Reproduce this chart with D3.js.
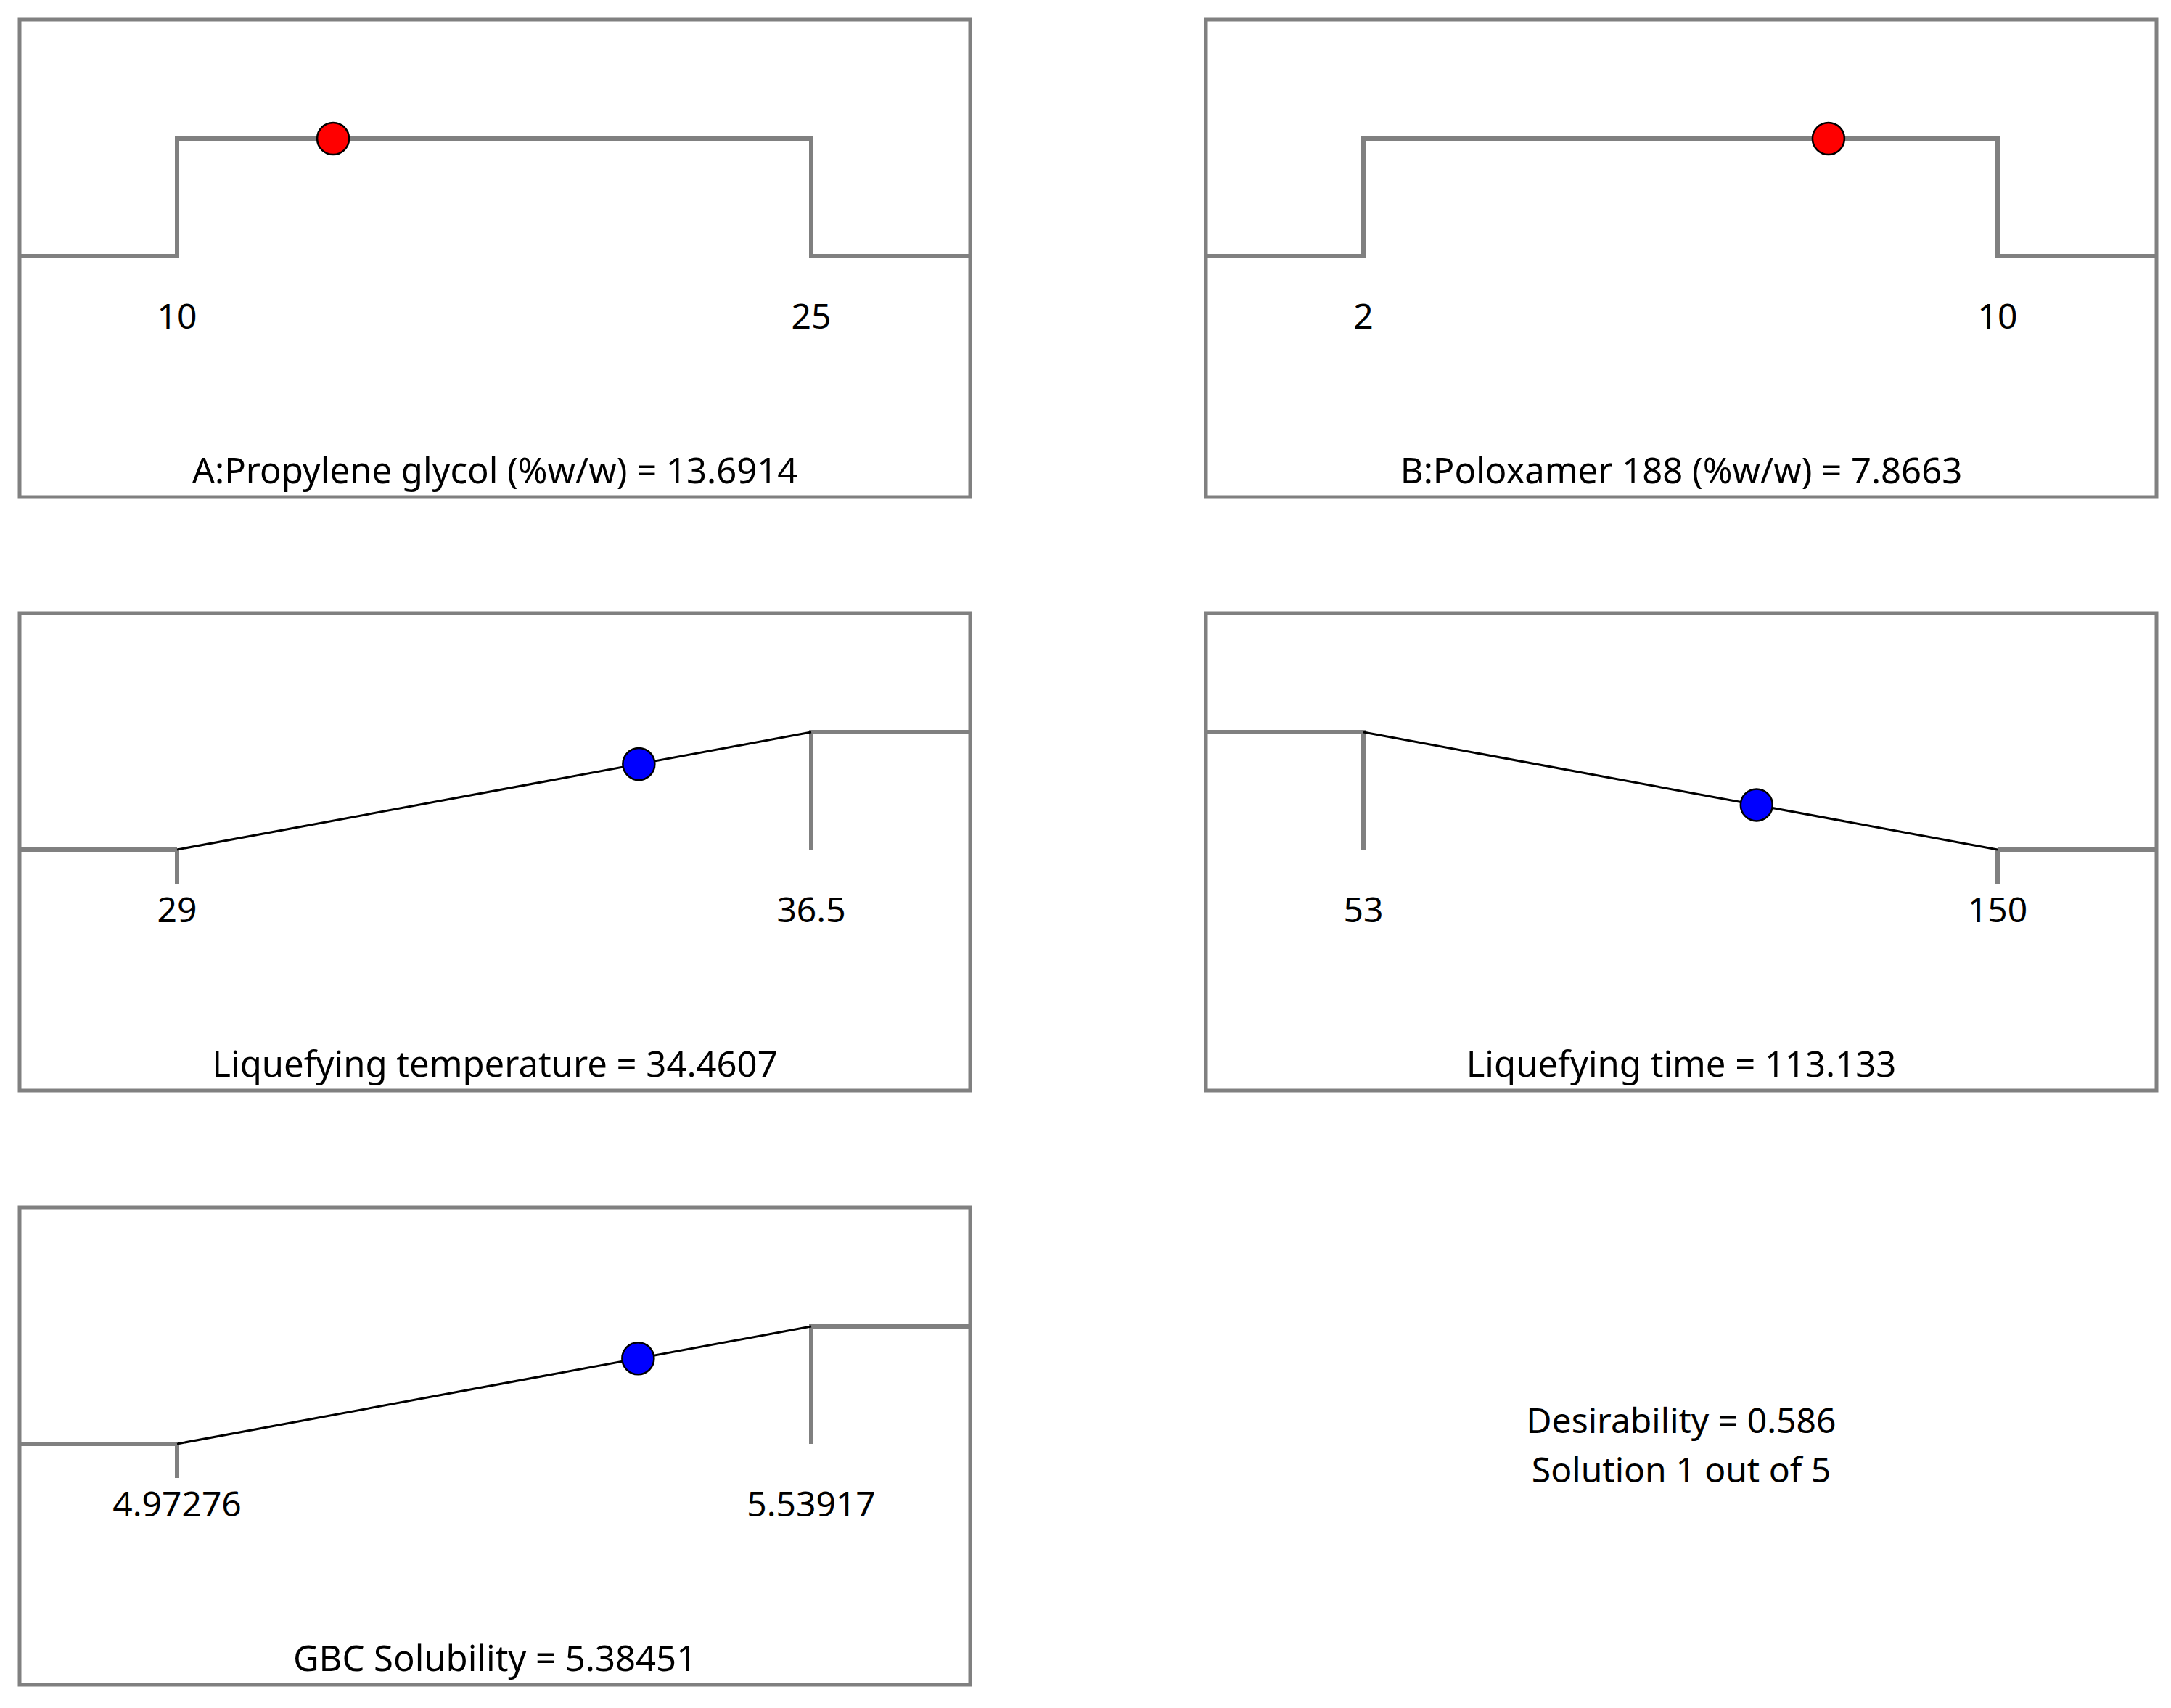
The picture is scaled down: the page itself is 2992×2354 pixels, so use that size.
<!DOCTYPE html>
<html>
<head>
<meta charset="utf-8">
<script src="https://cdn.jsdelivr.net/npm/d3@7"></script>
<style>
  body { margin: 0; background: #fff; }
  text { font-family: "Noto Sans", "Open Sans", sans-serif; fill: #000; }
</style>
</head>
<body>
<div id="chart"></div>
<script>
// Factor / response names
var names = ["A:Propylene glycol (%w/w)", "B:Poloxamer 188 (%w/w)", "Liquefying temperature", "Liquefying time", "GBC Solubility"];
// Goal type for each panel
var goals = ["range", "range", "maximize", "minimize", "maximize"];
// Low and high limits
var lows = [10, 2, 29, 53, 4.97276];
var highs = [25, 10, 36.5, 150, 5.53917];
var lowLabels = ["10", "2", "29", "53", "4.97276"];
var highLabels = ["25", "10", "36.5", "150", "5.53917"];
// Solution values
var values = [13.6914, 7.8663, 34.4607, 113.133, 5.38451];
var valueLabels = ["13.6914", "7.8663", "34.4607", "113.133", "5.38451"];
var dotColors = ["red", "red", "blue", "blue", "blue"];
var desirability = "0.586";
var solutionText = "Solution 1 out of 5";

var width = 2992, height = 2354;
var panelW = 1310, panelH = 658;
var colX = [27, 1662];
var rowY = [27, 845, 1664];
var grey = "#808080";

var svg = d3.select("#chart").append("svg")
  .attr("width", width)
  .attr("height", height);

// desirability of a value for a given goal
function desir(goal, v, lo, hi) {
  if (goal === "range") return (v >= lo && v <= hi) ? 1 : 0;
  var t = Math.max(0, Math.min(1, (v - lo) / (hi - lo)));
  return goal === "maximize" ? t : 1 - t;
}

names.forEach(function(name, i) {
  var px = colX[i % 2], py = rowY[Math.floor(i / 2)];
  var g = svg.append("g").attr("transform", `translate(${px},${py})`);

  var x = d3.scaleLinear().domain([lows[i], highs[i]]).range([217, 1091]);
  var y = d3.scaleLinear().domain([0, 1]).range([326, 164]);
  var lo = lows[i], hi = highs[i], goal = goals[i];

  // frame
  g.append("rect")
    .attr("width", panelW).attr("height", panelH)
    .attr("fill", "none").attr("stroke", grey).attr("stroke-width", 5);

  var line = d3.line();
  var greyLines = [], ramp = null;
  if (goal === "range") {
    greyLines.push([[0, y(0)], [x(lo), y(0)], [x(lo), y(1)], [x(hi), y(1)], [x(hi), y(0)], [panelW, y(0)]]);
  } else if (goal === "maximize") {
    greyLines.push([[0, y(0)], [x(lo), y(0)]]);
    greyLines.push([[x(lo), y(0)], [x(lo), y(0) + 47]]);
    greyLines.push([[x(hi), y(0)], [x(hi), y(1)], [panelW, y(1)]]);
    ramp = [[x(lo), y(0)], [x(hi), y(1)]];
  } else {
    greyLines.push([[0, y(1)], [x(lo), y(1)], [x(lo), y(0)]]);
    greyLines.push([[x(hi), y(0)], [panelW, y(0)]]);
    greyLines.push([[x(hi), y(0)], [x(hi), y(0) + 47]]);
    ramp = [[x(lo), y(1)], [x(hi), y(0)]];
  }

  g.selectAll("path.grey").data(greyLines).join("path")
    .attr("class", "grey")
    .attr("d", line)
    .attr("fill", "none").attr("stroke", grey).attr("stroke-width", 6);

  if (ramp) {
    g.append("path").attr("d", line(ramp))
      .attr("fill", "none").attr("stroke", "#000").attr("stroke-width", 3);
  }

  // solution point
  g.append("circle")
    .attr("cx", x(values[i]))
    .attr("cy", y(desir(goal, values[i], lo, hi)))
    .attr("r", 22)
    .attr("fill", dotColors[i]).attr("stroke", "#000").attr("stroke-width", 2.5);

  // limit labels
  g.selectAll("text.tick").data([[lo, lowLabels[i]], [hi, highLabels[i]]]).join("text")
    .attr("class", "tick")
    .attr("x", d => x(d[0]))
    .attr("y", 426)
    .attr("text-anchor", "middle")
    .attr("font-size", 48)
    .text(d => d[1]);

  // panel title
  g.append("text")
    .attr("x", panelW / 2).attr("y", 639)
    .attr("text-anchor", "middle")
    .attr("font-size", 49)
    .text(`${name} = ${valueLabels[i]}`);
});

// Desirability note in the empty cell
var note = svg.append("g").attr("transform", `translate(${colX[1] + panelW / 2},${rowY[2]})`);
note.append("text").attr("y", 311).attr("text-anchor", "middle").attr("font-size", 48)
  .text(`Desirability = ${desirability}`);
note.append("text").attr("y", 379).attr("text-anchor", "middle").attr("font-size", 48)
  .text(solutionText);
</script>
</body>
</html>
